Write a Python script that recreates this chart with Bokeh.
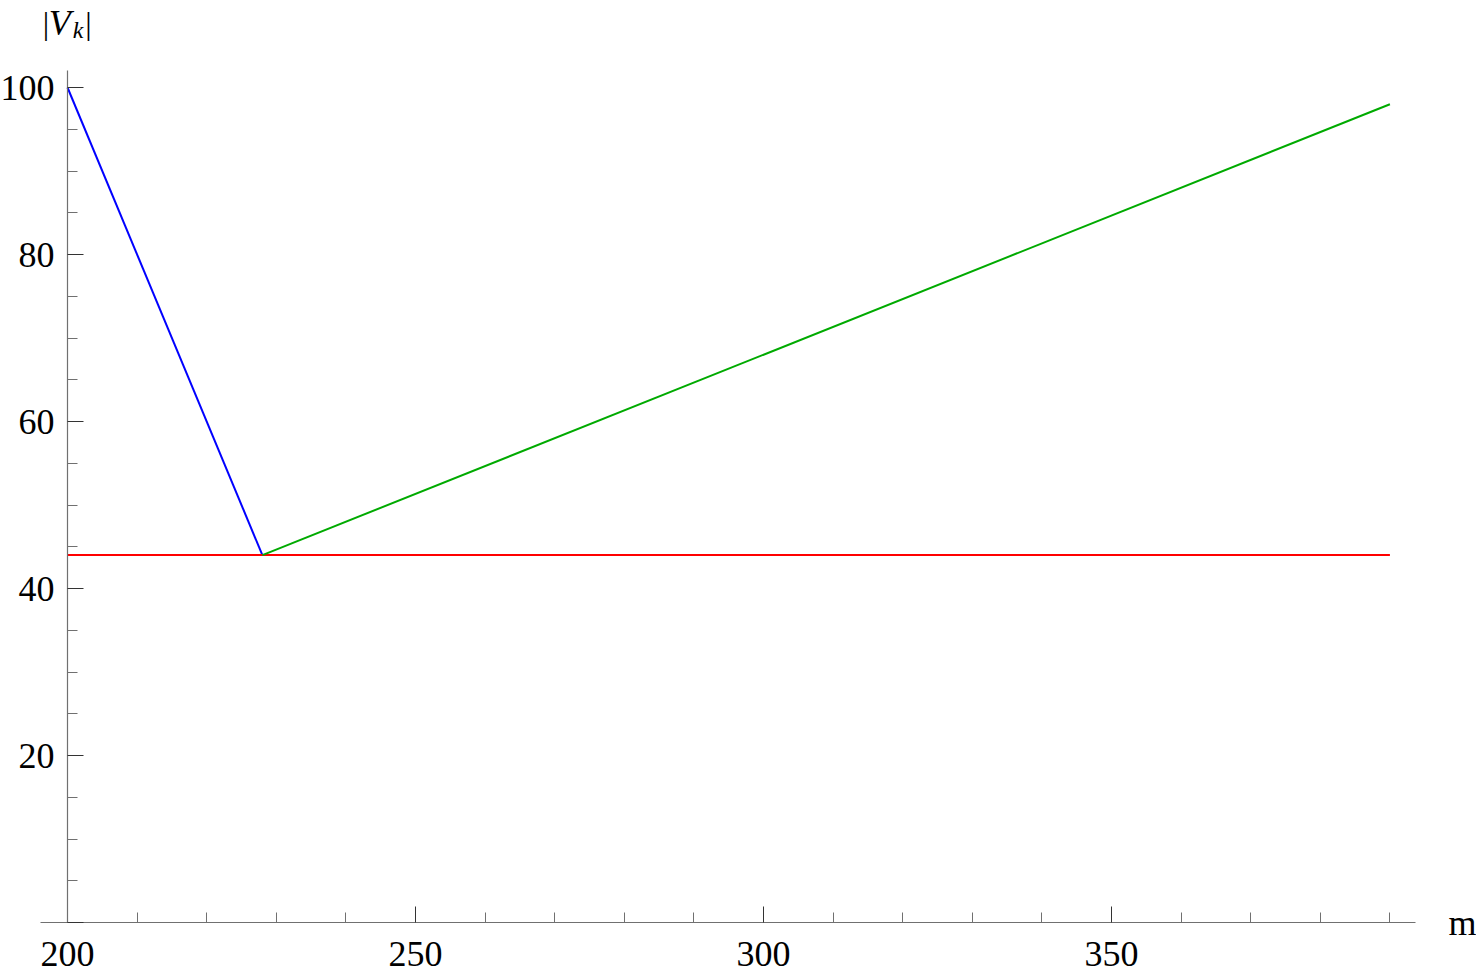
from bokeh.plotting import figure
from bokeh.models import FixedTicker, Label, Range1d
from bokeh.embed import file_html
from bokeh.resources import INLINE

# data
blue_x = [200, 228]
blue_y = [100, 44]
red_x = [200, 390]
red_y = [44, 44]
green_x = [228, 390]
green_y = [44, 98]

x_major = [200, 250, 300, 350]
x_minor = [210, 220, 230, 240, 260, 270, 280, 290, 310, 320, 330, 340, 360, 370, 380, 390]
y_major = [0, 20, 40, 60, 80, 100]
y_minor = [5, 10, 15, 25, 30, 35, 45, 50, 55, 65, 70, 75, 85, 90, 95]

FONT = "'Liberation Serif'"

p = figure(width=1476, height=975,
           x_range=Range1d(190.374, 402.44), y_range=Range1d(-6.347, 110.42),
           output_backend="svg", toolbar_location=None,
           min_border=0, min_border_left=0, min_border_right=0,
           min_border_top=0, min_border_bottom=0)
p.outline_line_color = None
p.xgrid.visible = False
p.ygrid.visible = False
p.background_fill_color = "white"
p.border_fill_color = "white"

p.line(blue_x, blue_y, line_color="#0000ff", line_width=2)
p.line(red_x, red_y, line_color="#ff0000", line_width=2)
p.line(green_x, green_y, line_color="#00aa00", line_width=2)

for ax in (p.xaxis[0], p.yaxis[0]):
    ax.axis_line_color = "#707070"
    ax.axis_line_width = 1.2
    ax.major_tick_line_color = "#333333"
    ax.minor_tick_line_color = "#707070"
    ax.major_tick_in = 16
    ax.major_tick_out = 0
    ax.minor_tick_in = 10
    ax.minor_tick_out = 0
    ax.major_label_text_font = FONT
    ax.major_label_text_font_size = "36px"
    ax.major_label_text_color = "black"

p.xaxis.ticker = FixedTicker(ticks=x_major, minor_ticks=x_minor)
p.yaxis.ticker = FixedTicker(ticks=y_major, minor_ticks=y_minor)
p.yaxis.major_label_overrides = {0: ""}
p.xaxis.fixed_location = 0
p.yaxis.fixed_location = 200
p.xaxis.bounds = (196.12, 393.68)
p.yaxis.bounds = (0, 102.04)
p.xaxis.major_label_standoff = 19
p.yaxis.major_label_standoff = 13

# axis labels
def lab(x, y, t, size, italic=False):
    p.add_layout(Label(x=x, y=y, text=t, text_font=FONT, text_font_size=size,
                       text_font_style="italic" if italic else "normal",
                       text_color="black", text_baseline="alphabetic"))

lab(196.45, 107.7, "|", "32px")
lab(197.3, 107.7, "V", "36px", True)
lab(200.75, 106.9, "k", "24px", True)
lab(202.55, 107.7, "|", "32px")
lab(398.42, -0.1, "m", "36px")

open("out.html", "w").write(file_html(p, INLINE))
